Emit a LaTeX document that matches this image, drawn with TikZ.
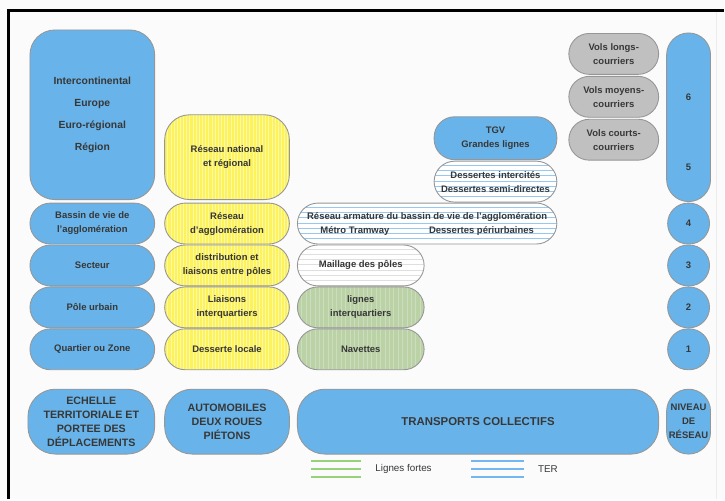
\documentclass[tikz,border=0pt]{standalone}
\usepackage{fontspec}
\setmainfont{Liberation Sans}
\usetikzlibrary{positioning}

\definecolor{bleuR}{RGB}{104,180,234}
\definecolor{jauneR}{RGB}{251,242,92}
\definecolor{vertR}{RGB}{186,210,166}
\definecolor{grisR}{RGB}{192,192,192}
\definecolor{bordR}{RGB}{150,150,150}
\definecolor{texteR}{RGB}{55,55,55}
\definecolor{terR}{RGB}{150,200,240}
\definecolor{fortesR}{RGB}{150,210,120}
\definecolor{legterR}{RGB}{115,182,240}

\tikzset{
  boite/.style={draw=bordR, line width=0.5pt, align=center, inner sep=1pt,
    text=texteR, font=\bfseries\fontsize{5.4}{8}\selectfont},
  capsule/.style={boite, rounded corners=0.41cm, minimum height=0.82cm},
  bleu/.style={fill=bleuR},
  jaune/.style={fill=jauneR, path picture={
    \foreach \k in {1,...,40}
      \draw[white!45!jauneR, line width=0.5pt]
        ([xshift=\k*1.8pt]path picture bounding box.south west) --
        ([xshift=\k*1.8pt]path picture bounding box.north west);}},
  vert/.style={fill=vertR, path picture={
    \foreach \k in {1,...,30}
      \draw[white!25!vertR, line width=0.5pt]
        ([xshift=\k*2.5pt]path picture bounding box.south west) --
        ([xshift=\k*2.5pt]path picture bounding box.north west);}},
  ter/.style={fill=white, path picture={
    \foreach \k in {1,...,7}
      \draw[#1, line width=0.5pt]
        ([yshift=\k*3pt]path picture bounding box.south west) --
        ([yshift=\k*3pt]path picture bounding box.south east);}},
  gris/.style={fill=grisR},
  titre/.style={boite, bleu, minimum height=1.3cm, rounded corners=0.55cm,
    font=\bfseries\fontsize{6.1}{8}\selectfont},
  legende/.style={text=texteR, font=\fontsize{5.6}{8}\selectfont, anchor=west}
}

\begin{document}
\begin{tikzpicture}[x=0.02cm, y=-0.02cm]

% fond et cadre
\fill[gray!3] (0,0) rectangle (725,500);
\draw[line width=1.7pt] (8.5,500) -- (8.5,10.5) -- (725,10.5);
\draw[gray!15, line width=0.6pt] (718,12) -- (718,500);

% Echelle territoriale
\node[boite, bleu, minimum width=2.5cm, minimum height=3.4cm, rounded corners=0.5cm,
  font=\bfseries\fontsize{5.9}{8}\selectfont]
  (monde) at (92.5,115) {Intercontinental\\[4.5pt] Europe\\[4.5pt] Euro-régional\\[4.5pt] Région};
\node[capsule, bleu, minimum width=2.5cm] (bassin) at (92.5,224) {Bassin de vie de\\ l'agglomération};
\node[capsule, bleu, minimum width=2.5cm] (secteur) at (92.5,266) {Secteur};
\node[capsule, bleu, minimum width=2.5cm] (pole) at (92.5,308) {Pôle urbain};
\node[capsule, bleu, minimum width=2.5cm] (quartier) at (92.5,350) {Quartier ou Zone};

% Automobiles
\node[boite, jaune, minimum width=2.5cm, minimum height=1.7cm, rounded corners=0.5cm]
  (national) at (227.5,157.5) {Réseau national\\ et régional};
\node[capsule, jaune, minimum width=2.5cm] (agglo) at (227.5,224) {Réseau\\ d'agglomération};
\node[capsule, jaune, minimum width=2.5cm] (distrib) at (227.5,266) {distribution et\\ liaisons entre pôles};
\node[capsule, jaune, minimum width=2.5cm] (liaisons) at (227.5,308) {Liaisons\\ interquartiers};
\node[capsule, jaune, minimum width=2.5cm] (desserte) at (227.5,350) {Desserte locale};

% Transports collectifs
\node[capsule, bleu, minimum width=2.46cm, minimum height=0.86cm] (tgv) at (496.5,138.5) {TGV\\ Grandes lignes};
\node[capsule, ter=terR, minimum width=2.46cm] (intercites) at (496.5,182) {Dessertes intercités\\ Dessertes semi-directes};
\node[capsule, ter=terR, minimum width=5.2cm] (armature) at (428,224)
  {Réseau armature du bassin de vie de l'agglomération\\ Métro Tramway\hspace{4.2em}Dessertes périurbaines};
\node[capsule, ter=gray!25, minimum width=2.54cm] (maillage) at (361.5,266) {Maillage des pôles};
\node[capsule, vert, minimum width=2.54cm] (lignes) at (361.5,308) {lignes\\ interquartiers};
\node[capsule, vert, minimum width=2.54cm] (navettes) at (361.5,350) {Navettes};

% Aerien
\node[capsule, gris, minimum width=1.8cm] (longs) at (615,54) {Vols longs-\\ courriers};
\node[capsule, gris, minimum width=1.8cm] (moyens) at (615,97) {Vols moyens-\\ courriers};
\node[capsule, gris, minimum width=1.8cm] (courts) at (615,140) {Vols courts-\\ courriers};

% Niveaux
\node[boite, bleu, minimum width=0.88cm, minimum height=3.38cm, rounded corners=0.44cm]
  (n65) at (690,117.5) {};
\node[text=texteR, font=\bfseries\fontsize{5.4}{8}\selectfont] (n6) at (690,97) {6};
\node[text=texteR, font=\bfseries\fontsize{5.4}{8}\selectfont] (n5) at (690,168) {5};
\node[capsule, bleu, minimum width=0.84cm] (n4) at (690,224) {4};
\node[capsule, bleu, minimum width=0.84cm] (n3) at (690,266) {3};
\node[capsule, bleu, minimum width=0.84cm] (n2) at (690,308) {2};
\node[capsule, bleu, minimum width=0.84cm] (n1) at (690,350) {1};

% Titres
\node[titre, minimum width=2.54cm] (echelle) at (91.5,422.5)
  {ECHELLE\\ TERRITORIALE ET\\ PORTEE DES\\ DÉPLACEMENTS};
\node[titre, minimum width=2.5cm] (automobiles) at (227.5,422.5)
  {AUTOMOBILES\\ DEUX ROUES\\ PIÉTONS};
\node[titre, minimum width=7.24cm, font=\bfseries\fontsize{6.5}{8}\selectfont] (transports) at (479,422.5) {TRANSPORTS COLLECTIFS};
\node[titre, minimum width=0.88cm, rounded corners=0.44cm, inner sep=0pt,
  font=\bfseries\fontsize{5.4}{8}\selectfont] (niveau) at (690,422.5)
  {NIVEAU\\ DE\\ RÉSEAU};

% Legende
\node[legende] (lfortes) at (370,470) {Lignes fortes};
\node[legende] (terl) at (533,470) {TER};
\foreach \y in {462,470,478}{
  \draw[fortesR, line width=0.7pt] (312,\y) -- (362,\y);
  \draw[legterR, line width=0.7pt] (472,\y) -- (525,\y);
}

\end{tikzpicture}
\end{document}
